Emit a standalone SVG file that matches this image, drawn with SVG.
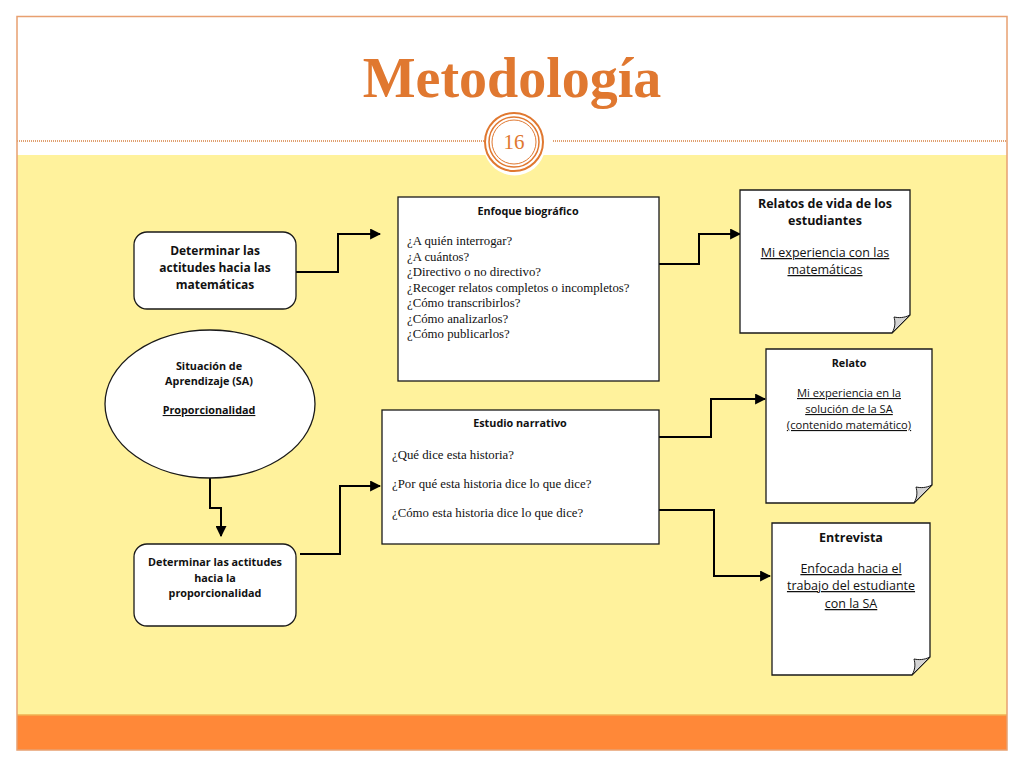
<svg xmlns="http://www.w3.org/2000/svg" width="1024" height="768" viewBox="0 0 1024 768">
<defs>
<style>
.box{fill:#fff;stroke:#1a1a1a;stroke-width:1.3}
.conn{fill:none;stroke:#000;stroke-width:2}
.b{font-family:"Open Sans","Liberation Sans",sans-serif;font-weight:bold;fill:#111;text-anchor:middle}
.n{font-family:"Open Sans","Liberation Sans",sans-serif;fill:#111;text-anchor:middle;text-decoration:underline}
.t{font-family:"Liberation Serif",serif;font-size:12.8px;fill:#111}
.fold{fill:#d4d4d4;stroke:#1a1a1a;stroke-width:1}
</style>
<marker id="arr" viewBox="0 0 10 10" refX="9" refY="5" markerWidth="5.5" markerHeight="5.5" orient="auto" markerUnits="strokeWidth">
<path d="M0,0 L10,5 L0,10 Z" fill="#000"/>
</marker>
</defs>
<rect x="0" y="0" width="1024" height="768" fill="#fff"/>
<rect x="17" y="155" width="990" height="560" fill="#FFF29C"/>
<rect x="17" y="715" width="990" height="35" fill="#FF8838"/>
<line x1="17" y1="715" x2="1007" y2="715" stroke="#F0B050" stroke-width="1.5"/>
<rect x="17" y="16.5" width="990" height="733.5" fill="none" stroke="#E8A070" stroke-width="1.5"/>
<line x1="17" y1="141" x2="488" y2="141" stroke="#E0A070" stroke-width="2" stroke-dasharray="1 1"/>
<line x1="553" y1="141" x2="1007" y2="141" stroke="#E0A070" stroke-width="2" stroke-dasharray="1 1"/>
<path d="M484,150 A31,31 0 0 0 545,150 Z" fill="#fff"/>
<circle cx="514" cy="142" r="29" fill="#fff" stroke="#E07830" stroke-width="2"/>
<circle cx="514" cy="142" r="25" fill="none" stroke="#E07830" stroke-width="1.5"/>
<circle cx="514" cy="142" r="22" fill="none" stroke="#E07830" stroke-width="1"/>
<text x="514" y="149" font-family="Liberation Serif,serif" font-size="21" fill="#E07830" text-anchor="middle">16</text>
<text x="512" y="97" font-family="Liberation Serif,serif" font-weight="bold" font-size="56" fill="#E07830" text-anchor="middle">Metodología</text>

<g id="connectors">
<path class="conn" d="M296,272 H338 V234 H380" marker-end="url(#arr)"/>
<path class="conn" d="M659,264 H699 V234 H740" marker-end="url(#arr)"/>
<path class="conn" d="M659,437 H711 V399 H765" marker-end="url(#arr)"/>
<path class="conn" d="M659,510 H714 V576 H770" marker-end="url(#arr)"/>
<path class="conn" d="M210,478 V508 H221 V536" marker-end="url(#arr)"/>
<path class="conn" d="M300,554 H340 V486 H380" marker-end="url(#arr)"/>
</g>

<g id="n-det-mat">
<rect class="box" x="134" y="232" width="162" height="77" rx="13"/>
<text class="b" font-size="12" x="215" y="255">Determinar las</text>
<text class="b" font-size="12" x="215" y="272">actitudes hacia las</text>
<text class="b" font-size="12" x="215" y="289">matemáticas</text>
</g>

<g id="n-sa">
<ellipse class="box" cx="210" cy="404" rx="105" ry="74"/>
<text class="b" font-size="10.8" x="209" y="370">Situación de</text>
<text class="b" font-size="10.8" x="209" y="385">Aprendizaje (SA)</text>
<text class="b" font-size="10.8" x="209" y="414" text-decoration="underline">Proporcionalidad</text>
</g>

<g id="n-det-prop">
<rect class="box" x="134" y="544" width="162" height="82" rx="13"/>
<text class="b" font-size="10.8" x="215" y="566">Determinar las actitudes</text>
<text class="b" font-size="10.8" x="215" y="582">hacia la</text>
<text class="b" font-size="10.8" x="215" y="597">proporcionalidad</text>
</g>

<g id="n-enfoque">
<rect class="box" x="398" y="197" width="261" height="184"/>
<text class="b" font-size="10.8" x="528" y="215">Enfoque biográfico</text>
<text class="t" x="407" y="245">¿A quién interrogar?</text>
<text class="t" x="407" y="260.5">¿A cuántos?</text>
<text class="t" x="407" y="276">¿Directivo o no directivo?</text>
<text class="t" x="407" y="291.5">¿Recoger relatos completos o incompletos?</text>
<text class="t" x="407" y="307">¿Cómo transcribirlos?</text>
<text class="t" x="407" y="322.5">¿Cómo analizarlos?</text>
<text class="t" x="407" y="338">¿Cómo publicarlos?</text>
</g>

<g id="n-estudio">
<rect class="box" x="382" y="410" width="277" height="134"/>
<text class="b" font-size="10.8" x="520" y="427">Estudio narrativo</text>
<text class="t" x="392" y="459">¿Qué dice esta historia?</text>
<text class="t" x="392" y="488">¿Por qué esta historia dice lo que dice?</text>
<text class="t" x="392" y="517">¿Cómo esta historia dice lo que dice?</text>
</g>

<g id="n-relatos">
<path class="box" d="M740,190 H910 V315 L892,333 H740 Z"/>
<path class="fold" d="M910,315 L892,333 C896,326 895,321 894,317 C899,318 904,318 910,315 Z"/>
<text class="b" font-size="12.5" x="825" y="208">Relatos de vida de los</text>
<text class="b" font-size="12.5" x="825" y="225">estudiantes</text>
<text class="n" font-size="12.5" x="825" y="257">Mi experiencia con las</text>
<text class="n" font-size="12.5" x="825" y="274">matemáticas</text>
</g>

<g id="n-relato">
<path class="box" d="M766,349 H932 V485 L914,503 H766 Z"/>
<path class="fold" d="M932,485 L914,503 C918,496 917,491 916,487 C921,488 926,488 932,485 Z"/>
<text class="b" font-size="10.8" x="849" y="367">Relato</text>
<text class="n" font-size="11.2" x="849" y="397">Mi experiencia en la</text>
<text class="n" font-size="11.2" x="849" y="413">solución de la SA</text>
<text class="n" font-size="11.2" x="849" y="429">(contenido matemático)</text>
</g>

<g id="n-entrevista">
<path class="box" d="M772,523 H930 V657 L912,675 H772 Z"/>
<path class="fold" d="M930,657 L912,675 C916,668 915,663 914,659 C919,660 924,660 930,657 Z"/>
<text class="b" font-size="12.5" x="851" y="542">Entrevista</text>
<text class="n" font-size="12.5" x="851" y="573">Enfocada hacia el</text>
<text class="n" font-size="12.5" x="851" y="590">trabajo del estudiante</text>
<text class="n" font-size="12.5" x="851" y="608">con la SA</text>
</g>
</svg>
